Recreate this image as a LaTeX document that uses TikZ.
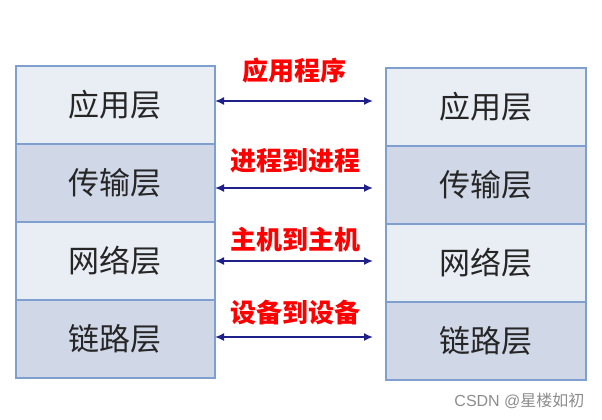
\documentclass[tikz,border=0pt]{standalone}
\usepackage{fontspec}
\setmainfont{Noto Sans CJK SC}
\newfontfamily\wmfont{Liberation Sans}
\usetikzlibrary{arrows.meta}
\definecolor{lightrow}{HTML}{E9EDF4}
\definecolor{darkrow}{HTML}{D0D8E8}
\definecolor{rowedge}{HTML}{7FA0CF}
\definecolor{navy}{HTML}{20208A}
\begin{document}
\begin{tikzpicture}[x=1pt,y=-1pt,
  layer/.style={draw=rowedge,line width=1.8pt,minimum width=199pt,minimum height=78pt,inner sep=0pt,anchor=north west,font=\fontsize{31}{34}\selectfont,text=black!85},
  lt/.style={layer,fill=lightrow},
  dk/.style={layer,fill=darkrow},
  lbl/.style={text=red,font=\fontsize{26}{29}\selectfont\bfseries},
  link/.style={navy,line width=1.6pt,{Latex[length=9pt,width=8pt]}-{Latex[length=9pt,width=8pt]}}]
\useasboundingbox (0,0) rectangle (602,420);
% left stack
\node[lt] (l1) at (15,65) {应用层};
\node[dk] (l2) at (15,143) {传输层};
\node[lt] (l3) at (15,221) {网络层};
\node[dk] (l4) at (15,299) {链路层};
% right stack
\node[lt,minimum width=200pt] (r1) at (385,67) {应用层};
\node[dk,minimum width=200pt] (r2) at (385,145) {传输层};
\node[lt,minimum width=200pt] (r3) at (385,223) {网络层};
\node[dk,minimum width=200pt] (r4) at (385,301) {链路层};
% arrows
\coordinate (a1l) at (215,101); \coordinate (a1r) at (373,101);
\coordinate (a2l) at (215,188); \coordinate (a2r) at (373,188);
\coordinate (a3l) at (215,261); \coordinate (a3r) at (373,261);
\coordinate (a4l) at (215,337); \coordinate (a4r) at (373,337);
\draw[link] (a1l) -- (a1r);
\draw[link] (a2l) -- (a2r);
\draw[link] (a3l) -- (a3r);
\draw[link] (a4l) -- (a4r);
% labels
\node[lbl] (t1) at (294,71) {应用程序};
\node[lbl] (t2) at (295,161) {进程到进程};
\node[lbl] (t3) at (295,240) {主机到主机};
\node[lbl] (t4) at (295,313) {设备到设备};
% watermark
\node[text=black!45,font=\fontsize{16}{18}\selectfont,anchor=east] (wm) at (588,401) {{\wmfont CSDN @}星楼如初};
\end{tikzpicture}
\end{document}
